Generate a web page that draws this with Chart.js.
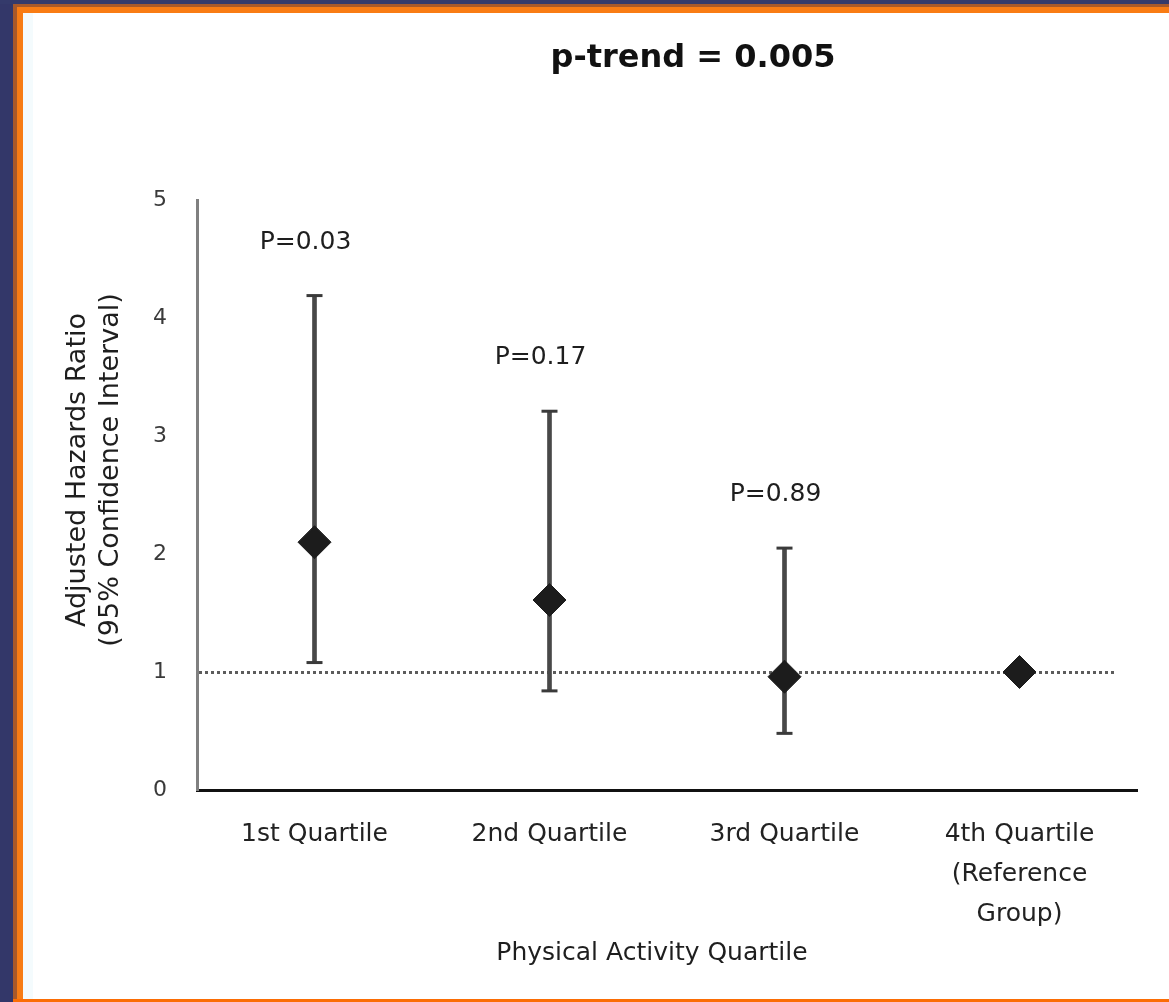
<!DOCTYPE html>
<html>
<head>
<meta charset="utf-8">
<title>Adjusted Hazards Ratio by Physical Activity Quartile</title>
<script src="https://cdn.jsdelivr.net/npm/chart.js@4/dist/chart.umd.min.js"></script>
<style>
  html, body { margin: 0; padding: 0; background: #ffffff; }
  body { width: 1169px; height: 1002px; position: relative; overflow: hidden; }
  .band { position: absolute; }
  #chart { position: absolute; left: 0; top: 0; }
</style>
</head>
<body>
<!-- slide frame -->
<div class="band" style="left:0;top:0;width:13px;height:1002px;background:#333769"></div>
<div class="band" style="left:0;top:0;width:1169px;height:4px;background:#343a6b"></div>
<div class="band" style="left:13px;top:4px;width:4px;height:998px;background:#a8592a"></div>
<div class="band" style="left:13px;top:4px;width:1156px;height:3px;background:#a8592a"></div>
<div class="band" style="left:17px;top:7px;width:6px;height:995px;background:#f77c15"></div>
<div class="band" style="left:17px;top:7px;width:1152px;height:6px;background:#f97c14"></div>
<div class="band" style="left:23px;top:13px;width:10px;height:986px;background:#f4fbfd"></div>
<div class="band" style="left:13px;top:999px;width:1156px;height:3px;background:#fb6d05"></div>

<canvas id="chart" width="1169" height="1002"></canvas>

<script>
// Physical activity quartiles and the adjusted hazards ratios with 95% CI
const categories = ['1st Quartile', '2nd Quartile', '3rd Quartile', ['4th Quartile', '(Reference', 'Group)']];
const hazardRatio = [2.10, 1.61, 0.96, 1.00];
const ciLower = [1.08, 0.84, 0.48, null];
const ciUpper = [4.19, 3.21, 2.05, null];
const pValueLabels = ['P=0.03', 'P=0.17', 'P=0.89', null];
const referenceValue = 1;
const yTickValues = [0, 1, 2, 3, 4, 5];
const titleText = 'p-trend = 0.005';
const yTitleLines = ['Adjusted Hazards Ratio', '(95% Confidence Interval)'];
const xTitleText = 'Physical Activity Quartile';

const ciRanges = ciLower.map((lo, i) => (lo === null ? null : [lo, ciUpper[i]]));

Chart.defaults.font.family = '"DejaVu Sans", "Liberation Sans", sans-serif';

// dotted line at the reference hazards ratio
const referenceLine = {
  id: 'referenceLine',
  beforeDatasetsDraw(chart) {
    const { ctx, chartArea, scales } = chart;
    const y = Math.round(scales.y.getPixelForValue(referenceValue)) + 0.5;
    ctx.save();
    ctx.strokeStyle = '#5c5c5c';
    ctx.lineWidth = 3;
    ctx.setLineDash([3, 3]);
    ctx.beginPath();
    ctx.moveTo(chartArea.left + 2, y);
    ctx.lineTo(chartArea.right - 20, y);
    ctx.stroke();
    ctx.restore();
  }
};

// title, axis titles and the P-value labels above each interval
const chartTexts = {
  id: 'chartTexts',
  afterDraw(chart) {
    const { ctx, scales } = chart;
    ctx.save();
    ctx.fillStyle = '#111';
    ctx.textAlign = 'center';
    ctx.textBaseline = 'alphabetic';

    ctx.font = 'bold 32px "DejaVu Sans", sans-serif';
    ctx.fillText(titleText, 693, 67);

    ctx.fillStyle = '#1e1e1e';
    ctx.font = '25px "DejaVu Sans", sans-serif';
    pValueLabels.forEach((label, i) => {
      if (!label) return;
      const x = scales.x.getPixelForValue(i) - 9;
      const y = scales.y.getPixelForValue(ciUpper[i]) - 47;
      ctx.fillText(label, x, y);
    });

    ctx.fillText(xTitleText, 652, 960);

    ctx.font = '27px "DejaVu Sans", sans-serif';
    ctx.translate(0, 470);
    ctx.rotate(-Math.PI / 2);
    ctx.fillText(yTitleLines[0], 0, 85);
    ctx.fillText(yTitleLines[1], 0, 118);
    ctx.restore();
  }
};

new Chart(document.getElementById('chart'), {
  type: 'bar',
  data: {
    labels: categories,
    datasets: [
      {
        type: 'line',
        label: 'Hazards ratio',
        data: hazardRatio,
        showLine: false,
        pointStyle: 'rectRot',
        pointRadius: 16.5,
        pointBackgroundColor: '#1c1c1c',
        pointBorderColor: '#1c1c1c',
        pointBorderWidth: 1,
        order: 0
      },
      {
        type: 'line',
        label: 'Upper 95% CI',
        data: ciUpper,
        showLine: false,
        pointStyle: 'line',
        pointRadius: 8,
        pointBorderWidth: 3,
        pointBorderColor: '#3a3a3a',
        order: 1
      },
      {
        type: 'line',
        label: 'Lower 95% CI',
        data: ciLower,
        showLine: false,
        pointStyle: 'line',
        pointRadius: 8,
        pointBorderWidth: 3,
        pointBorderColor: '#3a3a3a',
        order: 1
      },
      {
        type: 'bar',
        label: '95% CI',
        data: ciRanges,
        backgroundColor: '#484848',
        borderWidth: 0,
        barThickness: 4,
        order: 2
      }
    ]
  },
  options: {
    responsive: false,
    animation: false,
    devicePixelRatio: 1,
    layout: { padding: { top: 200, right: 32, bottom: 0, left: 0 } },
    plugins: {
      legend: { display: false },
      tooltip: { enabled: false },
      title: { display: false }
    },
    scales: {
      x: {
        offset: true,
        grid: { display: false },
        border: { display: true, color: '#111', width: 3 },
        ticks: {
          color: '#222',
          font: { size: 25, lineHeight: 1.6 },
          padding: 16,
          maxRotation: 0,
          autoSkip: false
        },
        afterFit(scale) { scale.height = 212; }
      },
      y: {
        min: 0,
        max: 5,
        grid: { display: false },
        border: { display: true, color: '#808080', width: 3 },
        afterBuildTicks(scale) { scale.ticks = yTickValues.map(v => ({ value: v })); },
        ticks: {
          color: '#3a3a3a',
          font: { size: 22 },
          padding: 22
        },
        afterFit(scale) { scale.width = 197; }
      }
    }
  },
  plugins: [referenceLine, chartTexts]
});
</script>
</body>
</html>
